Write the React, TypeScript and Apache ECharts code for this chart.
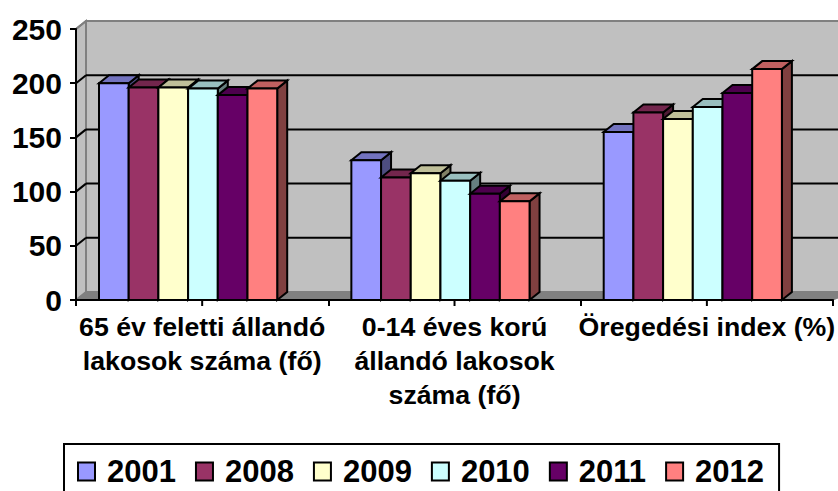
import React, { useEffect, useRef } from "react";
import * as echarts from "echarts";

const categories = [
  "65 év feletti állandó\nlakosok száma (fő)",
  "0-14 éves korú\nállandó lakosok\nszáma (fő)",
  "Öregedési index (%)",
];
const years = ["2001", "2008", "2009", "2010", "2011", "2012"];
const colors = ["#9999FF", "#993366", "#FFFFCC", "#CCFFFF", "#660066", "#FF8080"];
const v2001 = [200, 129, 155];
const v2008 = [196, 113, 173];
const v2009 = [196, 117, 167];
const v2010 = [195, 110, 178];
const v2011 = [189, 98, 191];
const v2012 = [195, 91, 213];
const seriesValues = [v2001, v2008, v2009, v2010, v2011, v2012];
const gridTicks = [0, 50, 100, 150, 200, 250];

const DX = 10;
const DY = 8;
const BAR_W = 29.7;
const BAR_START = 23;
const FONT = "'Liberation Sans', Arial, sans-serif";

function shade(hex: string, f: number) {
  const n = parseInt(hex.slice(1), 16);
  const c = [(n >> 16) & 255, (n >> 8) & 255, n & 255].map((x) => Math.round(x * f));
  return `rgb(${c[0]},${c[1]},${c[2]})`;
}

function renderWalls(params: any, api: any) {
  const cs = params.coordSys;
  const val = api.value(1);
  const y = api.coord([0, val])[1];
  const L = cs.x;
  const R = cs.x + cs.width;
  const B = cs.y + cs.height;
  const T = cs.y;
  const children: any[] = [];
  if (params.dataIndex === 0) {
    const wall = { fill: "#C0C0C0", stroke: "#808080", lineWidth: 2 };
    children.push({
      type: "polygon",
      shape: { points: [[L + DX, T - DY], [R + DX + 10, T - DY], [R + DX + 10, B - DY], [L + DX, B - DY]] },
      style: wall,
    });
    children.push({
      type: "polygon",
      shape: { points: [[L, T], [L + DX, T - DY], [L + DX, B - DY], [L, B]] },
      style: wall,
    });
    children.push({
      type: "polygon",
      shape: { points: [[L, B], [L + DX, B - DY], [R + DX + 10, B - DY], [R, B]] },
      style: { fill: "#808080", stroke: "#808080", lineWidth: 1 },
    });
    categories.forEach((_, i) => {
      const cx = api.coord([i, 0])[0];
      children.push({
        type: "line",
        shape: { x1: cx, y1: B, x2: cx, y2: B + 6 },
        style: { stroke: "#000", lineWidth: 2 },
      });
    });
  }
  if (val > 0 && val < 250) {
    children.push({
      type: "line",
      shape: { x1: L + DX, y1: y - DY, x2: R + DX + 10, y2: y - DY },
      style: { stroke: "#000", lineWidth: 2 },
    });
  }
  if (val > 0) {
    children.push({
      type: "line",
      shape: { x1: L, y1: y, x2: L + DX, y2: y - DY },
      style: { stroke: val === 250 ? "#808080" : "#000", lineWidth: 2 },
    });
  }
  return { type: "group", children };
}

function makeBarRenderer(idx: number) {
  return (params: any, api: any) => {
    const cat = api.value(0);
    const val = api.value(1);
    const center = api.coord([cat, val]);
    const base = api.coord([cat, 0]);
    const band = api.size([1, 0])[0];
    const x0 = center[0] - band / 2 + BAR_START + idx * BAR_W;
    const x1 = x0 + BAR_W;
    const top = center[1];
    const bot = base[1];
    const col = colors[idx];
    const stroke = { stroke: "#000", lineWidth: 2, lineJoin: "miter" };
    return {
      type: "group",
      children: [
        {
          type: "polygon",
          shape: { points: [[x1, top], [x1 + DX, top - DY], [x1 + DX, bot - DY], [x1, bot]] },
          style: { fill: shade(col, 0.5), ...stroke },
        },
        {
          type: "polygon",
          shape: { points: [[x0, top], [x0 + DX, top - DY], [x1 + DX, top - DY], [x1, top]] },
          style: { fill: shade(col, 0.75), ...stroke },
        },
        {
          type: "rect",
          shape: { x: x0, y: top, width: BAR_W, height: bot - top },
          style: { fill: col, ...stroke },
        },
      ],
    };
  };
}

export default function App() {
  const ref = useRef<HTMLDivElement>(null);
  useEffect(() => {
    document.body.style.margin = "0";
    const chart = echarts.init(ref.current!, undefined, { renderer: "svg" });
    chart.setOption({
      animation: false,
      backgroundColor: "#fff",
      textStyle: { fontFamily: FONT },
      grid: { left: 76, right: 4, top: 29, bottom: 191, containLabel: false },
      xAxis: {
        type: "category",
        data: categories,
        z: 5,
        axisLine: { lineStyle: { color: "#000", width: 2 } },
        axisTick: { show: true, length: 6, lineStyle: { color: "#000", width: 2 } },
        axisLabel: {
          interval: 0,
          color: "#000",
          fontSize: 26.7,
          fontWeight: "bold",
          fontFamily: FONT,
          lineHeight: 34,
          margin: 10,
          verticalAlign: "top",
          hideOverlap: false,
        },
      },
      yAxis: {
        type: "value",
        min: 0,
        max: 250,
        interval: 50,
        z: 5,
        splitLine: { show: false },
        axisLine: { show: true, lineStyle: { color: "#000", width: 2 } },
        axisTick: { show: true, length: 6, lineStyle: { color: "#000", width: 2 } },
        axisLabel: { color: "#000", fontSize: 30, fontWeight: "bold", fontFamily: FONT, margin: 14 },
      },
      legend: {
        left: 64,
        top: 444,
        data: years,
        orient: "horizontal",
        icon: "rect",
        itemWidth: 17,
        itemHeight: 18,
        itemGap: 19,
        padding: [12, 15, 60, 13],
        borderColor: "#000",
        borderWidth: 2,
        backgroundColor: "#fff",
        itemStyle: { borderColor: "#000", borderWidth: 2 },
        selectedMode: false,
        textStyle: { color: "#000", fontSize: 31, fontWeight: "bold", fontFamily: FONT, padding: [0, 0, 0, 7] },
      },
      series: [
        {
          type: "custom",
          name: "walls",
          silent: true,
          z: 1,
          clip: false,
          renderItem: renderWalls,
          encode: { x: 0, y: 1 },
          data: gridTicks.map((t) => [0, t]),
        },
        ...years.map((y, i) => ({
          type: "custom",
          name: y,
          z: 2,
          clip: false,
          renderItem: makeBarRenderer(i),
          itemStyle: { color: colors[i] },
          encode: { x: 0, y: 1 },
          data: seriesValues[i].map((v, c) => [c, v]),
        })),
      ],
    });
    return () => chart.dispose();
  }, []);
  return <div ref={ref} style={{ width: 838, height: 491 }} />;
}
